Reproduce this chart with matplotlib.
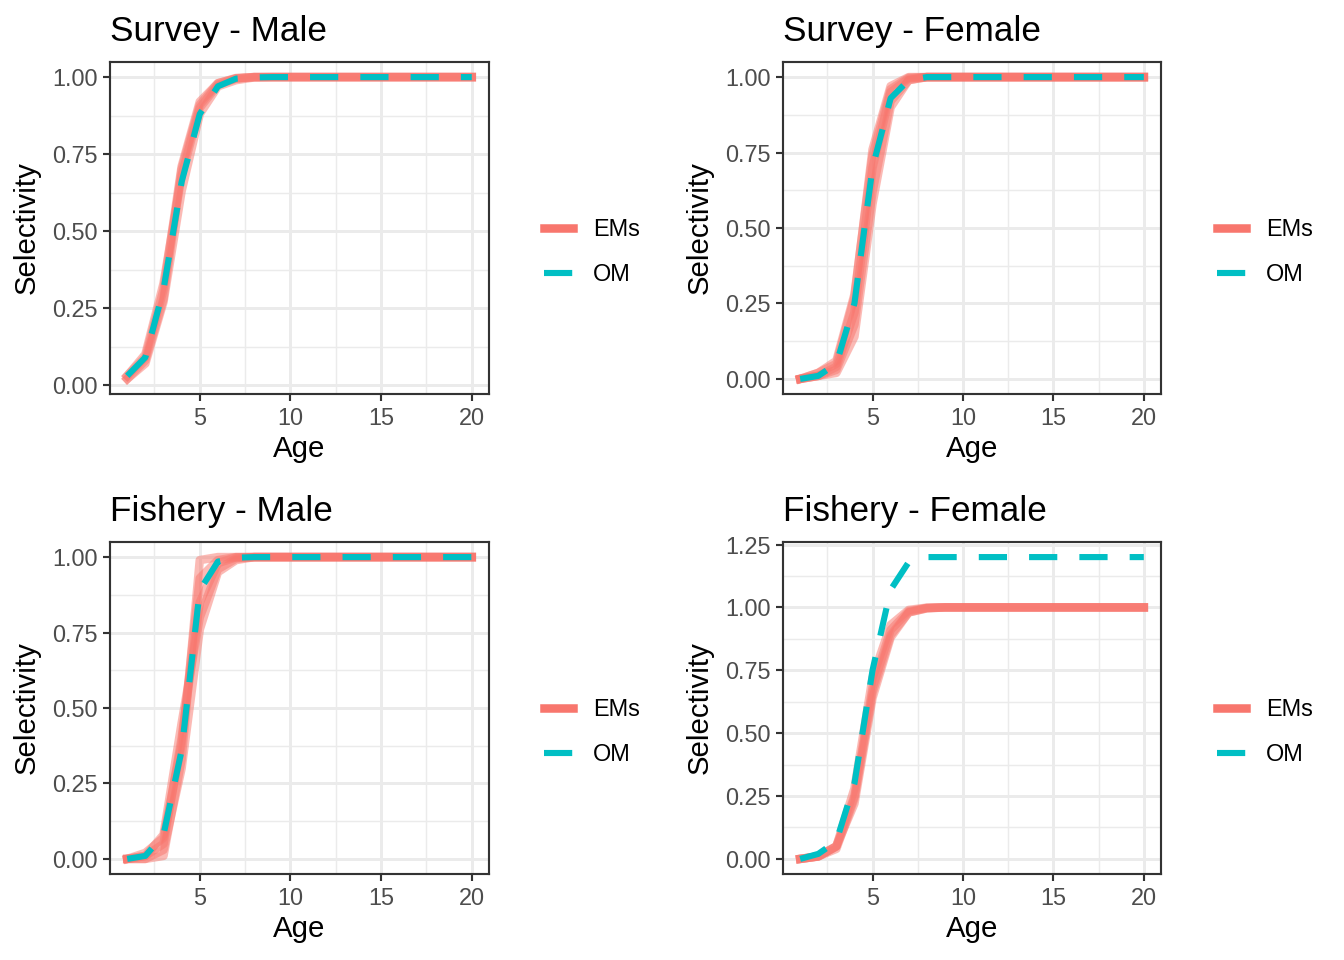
import numpy as np
import matplotlib.pyplot as plt
from matplotlib.lines import Line2D

plt.rcParams['font.family'] = ['Liberation Sans', 'DejaVu Sans']

ages = list(range(1, 21))

# OM curves (dashed cyan)
om_survey_male = [0.03, 0.09, 0.31, 0.66, 0.88, 0.97, 0.995, 0.999, 1.0, 1.0,
                  1.0, 1.0, 1.0, 1.0, 1.0, 1.0, 1.0, 1.0, 1.0, 1.0]
om_survey_female = [0.0, 0.01, 0.05, 0.25, 0.70, 0.93, 0.99, 1.0, 1.0, 1.0,
                    1.0, 1.0, 1.0, 1.0, 1.0, 1.0, 1.0, 1.0, 1.0, 1.0]
om_fishery_male = [0.0, 0.01, 0.08, 0.36, 0.89, 0.985, 0.998, 1.0, 1.0, 1.0,
                   1.0, 1.0, 1.0, 1.0, 1.0, 1.0, 1.0, 1.0, 1.0, 1.0]
om_fishery_female = [0.0, 0.02, 0.07, 0.30, 0.75, 1.07, 1.18, 1.20, 1.20, 1.20,
                     1.20, 1.20, 1.20, 1.20, 1.20, 1.20, 1.20, 1.20, 1.20, 1.20]

# EM replicates (salmon, transparent)
em_survey_male = [
    [0.02, 0.08, 0.28, 0.70, 0.91, 0.98, 0.996, 1.0, 1.0, 1.0, 1.0, 1.0, 1.0, 1.0, 1.0, 1.0, 1.0, 1.0, 1.0, 1.0],
    [0.03, 0.10, 0.33, 0.68, 0.90, 0.975, 0.995, 1.0, 1.0, 1.0, 1.0, 1.0, 1.0, 1.0, 1.0, 1.0, 1.0, 1.0, 1.0, 1.0],
    [0.02, 0.07, 0.27, 0.63, 0.88, 0.97, 0.99, 0.999, 1.0, 1.0, 1.0, 1.0, 1.0, 1.0, 1.0, 1.0, 1.0, 1.0, 1.0, 1.0],
    [0.03, 0.09, 0.31, 0.71, 0.92, 0.98, 0.997, 1.0, 1.0, 1.0, 1.0, 1.0, 1.0, 1.0, 1.0, 1.0, 1.0, 1.0, 1.0, 1.0],
]
em_survey_female = [
    [0.0, 0.01, 0.03, 0.18, 0.62, 0.92, 0.99, 1.0, 1.0, 1.0, 1.0, 1.0, 1.0, 1.0, 1.0, 1.0, 1.0, 1.0, 1.0, 1.0],
    [0.0, 0.02, 0.05, 0.27, 0.76, 0.97, 1.0, 1.0, 1.0, 1.0, 1.0, 1.0, 1.0, 1.0, 1.0, 1.0, 1.0, 1.0, 1.0, 1.0],
    [0.0, 0.01, 0.02, 0.14, 0.58, 0.90, 0.99, 1.0, 1.0, 1.0, 1.0, 1.0, 1.0, 1.0, 1.0, 1.0, 1.0, 1.0, 1.0, 1.0],
    [0.0, 0.01, 0.04, 0.22, 0.70, 0.95, 0.995, 1.0, 1.0, 1.0, 1.0, 1.0, 1.0, 1.0, 1.0, 1.0, 1.0, 1.0, 1.0, 1.0],
    [0.0, 0.02, 0.06, 0.28, 0.74, 0.96, 0.998, 1.0, 1.0, 1.0, 1.0, 1.0, 1.0, 1.0, 1.0, 1.0, 1.0, 1.0, 1.0, 1.0],
]
em_fishery_male = [
    [0.0, 0.0, 0.01, 0.33, 0.99, 1.0, 1.0, 1.0, 1.0, 1.0, 1.0, 1.0, 1.0, 1.0, 1.0, 1.0, 1.0, 1.0, 1.0, 1.0],
    [0.0, 0.01, 0.05, 0.40, 0.85, 0.98, 0.999, 1.0, 1.0, 1.0, 1.0, 1.0, 1.0, 1.0, 1.0, 1.0, 1.0, 1.0, 1.0, 1.0],
    [0.0, 0.01, 0.08, 0.45, 0.80, 0.96, 0.995, 1.0, 1.0, 1.0, 1.0, 1.0, 1.0, 1.0, 1.0, 1.0, 1.0, 1.0, 1.0, 1.0],
    [0.0, 0.0, 0.03, 0.30, 0.76, 0.95, 0.99, 1.0, 1.0, 1.0, 1.0, 1.0, 1.0, 1.0, 1.0, 1.0, 1.0, 1.0, 1.0, 1.0],
    [0.0, 0.02, 0.07, 0.38, 0.93, 0.99, 1.0, 1.0, 1.0, 1.0, 1.0, 1.0, 1.0, 1.0, 1.0, 1.0, 1.0, 1.0, 1.0, 1.0],
]
em_fishery_female = [
    [0.0, 0.01, 0.05, 0.22, 0.64, 0.88, 0.98, 0.996, 1.0, 1.0, 1.0, 1.0, 1.0, 1.0, 1.0, 1.0, 1.0, 1.0, 1.0, 1.0],
    [0.0, 0.01, 0.05, 0.25, 0.68, 0.91, 0.985, 0.998, 1.0, 1.0, 1.0, 1.0, 1.0, 1.0, 1.0, 1.0, 1.0, 1.0, 1.0, 1.0],
    [0.0, 0.01, 0.05, 0.28, 0.72, 0.93, 0.99, 0.999, 1.0, 1.0, 1.0, 1.0, 1.0, 1.0, 1.0, 1.0, 1.0, 1.0, 1.0, 1.0],
    [0.0, 0.01, 0.04, 0.24, 0.66, 0.89, 0.98, 0.997, 1.0, 1.0, 1.0, 1.0, 1.0, 1.0, 1.0, 1.0, 1.0, 1.0, 1.0, 1.0],
]

titles = ["Survey - Male", "Survey - Female", "Fishery - Male", "Fishery - Female"]
om_all = [om_survey_male, om_survey_female, om_fishery_male, om_fishery_female]
em_all = [em_survey_male, em_survey_female, em_fishery_male, em_fishery_female]

em_col = '#F8766D'
om_col = '#00BFC4'

W, H = 1344, 960
fig = plt.figure(figsize=(7, 5), dpi=192)
fig.patch.set_facecolor('white')

# panel boxes in pixels: left, top, right, bottom
boxes = [(110, 62, 489, 394), (783, 62, 1161, 394),
         (110, 542, 489, 874), (783, 542, 1161, 874)]

for i in range(4):
    l, t, r, b = boxes[i]
    ax = fig.add_axes([l / W, (H - b) / H, (r - l) / W, (b - t) / H])

    for em in em_all[i]:
        ax.plot(ages, em, color=em_col, lw=3.2, alpha=0.5, zorder=2)
    ax.plot(ages, om_all[i], color=om_col, lw=2.3, dashes=(4.6, 3.6), zorder=3)

    # axis limits like ggplot's 5% expansion
    ymin = min(min(om_all[i]), min(min(e) for e in em_all[i]))
    ymax = max(max(om_all[i]), max(max(e) for e in em_all[i]))
    pad = (ymax - ymin) * 0.05
    ax.set_ylim(ymin - pad, ymax + pad)
    ax.set_xlim(1 - 0.95, 20 + 0.95)

    ax.set_xticks([5, 10, 15, 20])
    ax.set_xticks([2.5, 7.5, 12.5, 17.5], minor=True)
    if i == 3:
        yt = [0, 0.25, 0.5, 0.75, 1.0, 1.25]
    else:
        yt = [0, 0.25, 0.5, 0.75, 1.0]
    ax.set_yticks(yt)
    ax.set_yticklabels(['%.2f' % v for v in yt])
    ax.set_yticks([v + 0.125 for v in yt[:-1]], minor=True)

    ax.grid(which='major', color='#EBEBEB', lw=1.1, zorder=0)
    ax.grid(which='minor', color='#EBEBEB', lw=0.55, zorder=0)
    ax.set_axisbelow(True)
    for s in ax.spines.values():
        s.set_color('#333333')
        s.set_linewidth(0.8)
    ax.tick_params(which='major', length=2.75, width=0.8, color='#333333',
                   labelsize=8.8, labelcolor='#4D4D4D', pad=2)
    ax.tick_params(which='minor', length=0)

    ax.set_xlabel('Age', fontsize=11, labelpad=2)
    ax.set_ylabel('Selectivity', fontsize=11, labelpad=4)
    ax.set_title(titles[i], fontsize=13.2, loc='left', pad=8)

    handles = [Line2D([], [], color=em_col, lw=3.2),
               Line2D([], [], color=om_col, lw=2.3, dashes=(4.6, 3.6))]
    # legend centred at the EMs/OM rows of the reference
    lx = (l + 430 - 8) / W
    ly = (H - (t + 190)) / H
    fig.legend(handles, ['EMs', 'OM'], loc='center left', bbox_to_anchor=(lx, ly),
               frameon=False, fontsize=8.8, handlelength=1.25, handletextpad=0.85,
               labelspacing=0.95, borderpad=0)

fig.savefig('out.png', dpi=192)
